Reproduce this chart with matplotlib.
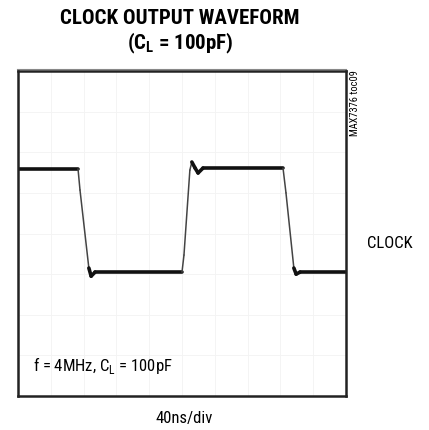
import numpy as np
import matplotlib
matplotlib.use('Agg')
import matplotlib.pyplot as plt
from matplotlib import font_manager

names = {f.name for f in font_manager.fontManager.ttflist}
cond = 'Roboto Condensed' if 'Roboto Condensed' in names else 'Liberation Sans'
plt.rcParams['font.family'] = [cond, 'DejaVu Sans']
plt.rcParams['mathtext.fontset'] = 'custom'
plt.rcParams['mathtext.rm'] = cond
plt.rcParams['mathtext.bf'] = cond + ':bold'

# scope trace, in screen divisions (x: 40ns/div, 10 div; y: 8 div)
t = [0.0, 1.83, 1.89, 2.16, 2.23, 2.35, 5.00, 5.06, 5.24, 5.30, 5.40, 5.49,
     5.64, 8.08, 8.17, 8.41, 8.48, 8.60, 10.0]
v = [5.59, 5.59, 5.07, 3.15, 2.95, 3.05, 3.05, 3.47, 5.56, 5.76, 5.61, 5.49,
     5.61, 5.61, 5.00, 3.15, 3.00, 3.05, 3.05]

fig = plt.figure(figsize=(4.29, 4.30), dpi=100)
ax = fig.add_axes([18/429, 34/430, 328/429, 325/430])

# faint graticule
for gx in range(1, 10):
    ax.axvline(gx, color='#f3f3f3', lw=0.6, zorder=0)
for gy in range(1, 8):
    ax.axhline(gy, color='#f3f3f3', lw=0.6, zorder=0)

# edges drawn thin, flat levels thick
for i in range(len(t) - 1):
    slope = abs(v[i+1] - v[i]) / max(t[i+1] - t[i], 1e-6)
    if slope > 3:
        ax.plot(t[i:i+2], v[i:i+2], color='#444444', lw=1.1, solid_capstyle='round')
    else:
        ax.plot(t[i:i+2], v[i:i+2], color='#111111', lw=2.6, solid_capstyle='round')

ax.set_xlim(0, 10)
ax.set_ylim(0, 8)
ax.set_xticks([])
ax.set_yticks([])
for s in ax.spines.values():
    s.set_linewidth(1.8)
    s.set_color('#222222')

ax.text(0.045, 0.095, r'f = 4MHz, C$_\mathrm{L}$ = 100pF', transform=ax.transAxes,
        fontsize=12, va='center', ha='left')

# thin gray rule above the frame
fig.add_artist(plt.Line2D([17/429, 346/429], [1 - 69/430, 1 - 69/430],
                          color='#888888', lw=0.8))

fig.text(180/429, 1 - 18/430, 'CLOCK OUTPUT WAVEFORM', ha='center', va='center',
         fontsize=15, fontweight='bold')
fig.text(180/429, 1 - 43/430, r'(C$_\mathbf{L}$ = 100pF)', ha='center', va='center',
         fontsize=15, fontweight='bold')
fig.text(390/429, 1 - 244/430, 'CLOCK', ha='center', va='center', fontsize=12)
fig.text(184/429, 1 - 419/430, '40ns/div', ha='center', va='center', fontsize=12)
fig.text(355/429, 1 - 70/430, 'MAX7376 toc09', ha='center', va='top', rotation=90,
         fontsize=7.5)

fig.savefig('out.png', dpi=100)
